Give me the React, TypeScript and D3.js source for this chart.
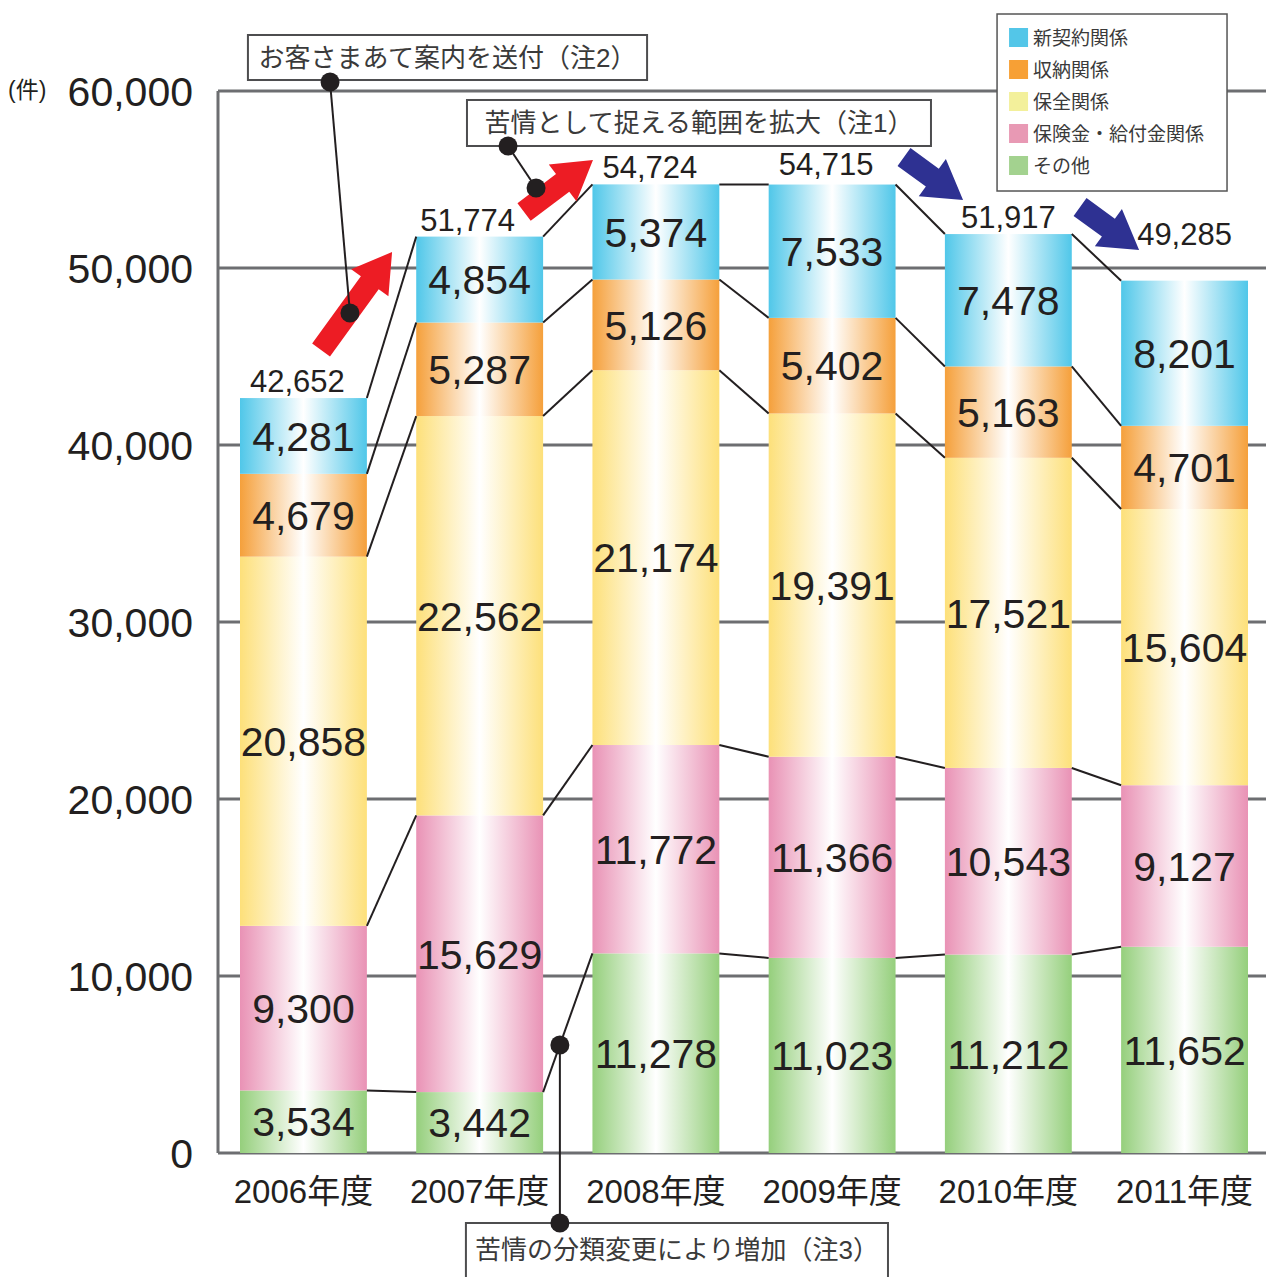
import * as d3 from "d3";

const years = ["2006年度", "2007年度", "2008年度", "2009年度", "2010年度", "2011年度"];
const seriesNames = ["その他", "保険金・給付金関係", "保全関係", "収納関係", "新契約関係"];
const other = [3534, 3442, 11278, 11023, 11212, 11652];
const benefits = [9300, 15629, 11772, 11366, 10543, 9127];
const maintenance = [20858, 22562, 21174, 19391, 17521, 15604];
const collection = [4679, 5287, 5126, 5402, 5163, 4701];
const newContract = [4281, 4854, 5374, 7533, 7478, 8201];
const totals = [42652, 51774, 54724, 54715, 51917, 49285];
const yTicks = [0, 10000, 20000, 30000, 40000, 50000, 60000];
const legendOrder = ["新契約関係", "収納関係", "保全関係", "保険金・給付金関係", "その他"];
const notes = ["お客さまあて案内を送付（注2）", "苦情として捉える範囲を拡大（注1）", "苦情の分類変更により増加（注3）"];

const W = 1266;
const H = 1277;
const FONT = "'Liberation Sans', 'Noto Sans CJK JP', sans-serif";
const INK = "#231f20";

// bar gradient edge colour, legend swatch colour
const edge: Record<string, string> = {
  その他: "#95cf7c",
  保険金・給付金関係: "#e992b5",
  保全関係: "#fde07a",
  収納関係: "#f5a03b",
  新契約関係: "#50c7e9",
};
const swatch: Record<string, string> = {
  その他: "#a3d28f",
  保険金・給付金関係: "#e899b4",
  保全関係: "#f3f09b",
  収納関係: "#f7a035",
  新契約関係: "#53c6e8",
};

function arrow(x1: number, y1: number, x2: number, y2: number) {
  const w = 22, hw = 46, hl = 38;
  const L = Math.hypot(x2 - x1, y2 - y1);
  const a = (Math.atan2(y2 - y1, x2 - x1) * 180) / Math.PI;
  const d = `M0,${-w / 2}L${L - hl},${-w / 2}L${L - hl},${-hw / 2}L${L},0L${L - hl},${hw / 2}L${L - hl},${w / 2}L0,${w / 2}Z`;
  return { d, transform: `translate(${x1},${y1}) rotate(${a})` };
}

export default function App() {
  const rows = years.map((year, i) => ({
    year,
    その他: other[i],
    保険金・給付金関係: benefits[i],
    保全関係: maintenance[i],
    収納関係: collection[i],
    新契約関係: newContract[i],
  }));
  const stacked = d3.stack<any>().keys(seriesNames)(rows);

  const plotLeft = 218;
  const x = d3.scaleBand().domain(years).range([240, 1248]).paddingInner(0.28).paddingOuter(0);
  const y = d3.scaleLinear().domain([0, 60000]).range([1153, 91]);
  const bw = x.bandwidth();
  const step = x.step();
  const x0 = x(years[0])!;
  // annotation position: t = steps from first bar's left edge, v = value units
  const at = (t: number, v: number): [number, number] => [x0 + t * step, y(v)];

  const boxA = [at(0.045, 63164), at(2.31, 60621)];
  const boxB = [at(1.288, 59492), at(3.921, 56893)];
  const boxC = [at(1.282, -3955), at(3.677, -7800)];
  const legend = [at(4.296, 64350), at(5.601, 54350)];

  const arrows = [
    { from: at(0.46, 45367), to: at(0.863, 50904), color: "#ed1c24" },
    { from: at(1.612, 53164), to: at(2.003, 56102), color: "#ed1c24" },
    { from: at(3.768, 56271), to: at(4.103, 53842), color: "#2e3192" },
    { from: at(4.767, 53446), to: at(5.102, 51017), color: "#2e3192" },
  ];

  // connector between 2007 and 2008 "その他" tops, dot sits on it
  const gx1 = x(years[1])! + bw, gy1 = y(stacked[0][1][1]);
  const gx2 = x(years[2])!, gy2 = y(stacked[0][2][1]);
  const f = 0.34;
  const dotC: [number, number] = [gx1 + (gx2 - gx1) * f, gy1 + (gy2 - gy1) * f];

  const leaders = [
    { a: at(0.511, 60508), b: at(0.624, 47458) },
    { a: at(1.521, 56893), b: at(1.68, 54520) },
    { a: dotC, b: [dotC[0], boxC[0][1]] as [number, number] },
  ];

  const totalLift = [0, 0, 0, 4, 0, 30];
  const totalShift = [-6, -12, -6, -6, 0, 0];

  return (
    <svg width={W} height={H} style={{ position: "absolute", left: 0, top: 0, background: "#fff" }} fontFamily={FONT}>
      <defs>
        {seriesNames.map((k, i) => (
          <linearGradient id={`g${i}`} key={k} x1="0" x2="1" y1="0" y2="0">
            <stop offset="0" stopColor={edge[k]} />
            <stop offset="0.5" stopColor="#ffffff" />
            <stop offset="1" stopColor={edge[k]} />
          </linearGradient>
        ))}
      </defs>

      {/* grid */}
      {yTicks.map((t) => (
        <line key={t} x1={plotLeft} x2={W} y1={y(t)} y2={y(t)} stroke="#6d6e71" strokeWidth={3} />
      ))}
      <line x1={plotLeft} x2={plotLeft} y1={y(60000)} y2={y(0)} stroke="#6d6e71" strokeWidth={3} />

      {/* y labels */}
      {yTicks.map((t) => (
        <text key={t} x={193} y={y(t)} dy="0.36em" textAnchor="end" fontSize={41} fill={INK}>
          {d3.format(",")(t)}
        </text>
      ))}
      <text x={8} y={y(60000)} dy="0.3em" fontSize={23} fill={INK}>(件)</text>

      {/* bars */}
      {stacked.map((layer, li) =>
        layer.map((d, i) => (
          <rect key={`${li}-${i}`} x={x(years[i])} width={bw} y={y(d[1])} height={y(d[0]) - y(d[1])} fill={`url(#g${li})`} />
        ))
      )}

      {/* connectors */}
      {stacked.map((layer, li) =>
        layer.slice(0, -1).map((d, i) => (
          <line key={`c${li}-${i}`} x1={x(years[i])! + bw} y1={y(d[1])} x2={x(years[i + 1])} y2={y(layer[i + 1][1])} stroke={INK} strokeWidth={2} />
        ))
      )}

      {/* segment labels */}
      {stacked.map((layer, li) =>
        layer.map((d, i) => (
          <text key={`t${li}-${i}`} x={x(years[i])! + bw / 2} y={y((d[0] + d[1]) / 2)} dy="0.36em" textAnchor="middle" fontSize={41} fill={INK}>
            {d3.format(",")(d[1] - d[0])}
          </text>
        ))
      )}

      {/* totals */}
      {totals.map((t, i) => (
        <text key={i} x={x(years[i])! + bw / 2 + totalShift[i]} y={y(t) - 6 - totalLift[i]} textAnchor="middle" fontSize={31} fill={INK}>
          {d3.format(",")(t)}
        </text>
      ))}

      {/* x labels */}
      {years.map((yr) => (
        <text key={yr} x={x(yr)! + bw / 2} y={y(0) + 50} textAnchor="middle" fontSize={33} fill={INK}>
          {yr}
        </text>
      ))}

      {/* arrows */}
      {arrows.map((a, i) => {
        const p = arrow(a.from[0], a.from[1], a.to[0], a.to[1]);
        return <path key={i} d={p.d} transform={p.transform} fill={a.color} />;
      })}

      {/* annotation boxes */}
      {[boxA, boxB, boxC].map((b, i) => (
        <g key={i}>
          <rect x={b[0][0]} y={b[0][1]} width={b[1][0] - b[0][0]} height={b[1][1] - b[0][1]} fill="#fff" stroke="#4d4d4f" strokeWidth={2} />
          <text
            x={(b[0][0] + b[1][0]) / 2}
            y={i === 2 ? b[0][1] + 27 : (b[0][1] + b[1][1]) / 2}
            dy="0.36em"
            textAnchor="middle"
            fontSize={26}
            fill="#3a3a3a"
          >
            {notes[i]}
          </text>
        </g>
      ))}

      {/* leader lines with dots */}
      {leaders.map((l, i) => (
        <g key={i}>
          <line x1={l.a[0]} y1={l.a[1]} x2={l.b[0]} y2={l.b[1]} stroke={INK} strokeWidth={2} />
          <circle cx={l.a[0]} cy={l.a[1]} r={9.5} fill={INK} />
          <circle cx={l.b[0]} cy={l.b[1]} r={9.5} fill={INK} />
        </g>
      ))}

      {/* legend */}
      <rect x={legend[0][0]} y={legend[0][1]} width={legend[1][0] - legend[0][0]} height={legend[1][1] - legend[0][1]} fill="#fff" stroke="#555" strokeWidth={1.5} />
      {legendOrder.map((k, i) => (
        <g key={k} transform={`translate(${legend[0][0] + 12},${legend[0][1] + 14 + i * 32})`}>
          <rect width={19} height={19} fill={swatch[k]} />
          <text x={24} y={10} dy="0.36em" fontSize={19} fill="#3a3a3a">{k}</text>
        </g>
      ))}
    </svg>
  );
}
